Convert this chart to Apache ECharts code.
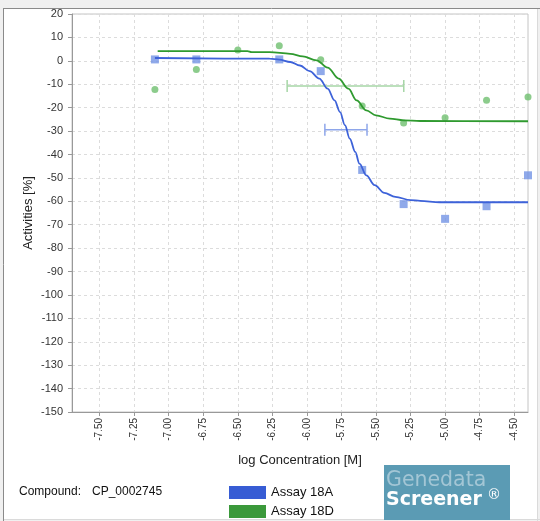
<!DOCTYPE html>
<html>
<head>
<meta charset="utf-8">
<script src="https://cdn.jsdelivr.net/npm/echarts@6/dist/echarts.min.js"></script>
<style>
html,body{margin:0;padding:0;background:#f0f0f0;}
#chart{width:540px;height:521px;}
</style>
</head>
<body>
<div id="chart"></div>
<script>
// ---- data ----
const logConc = [-7.1, -6.8, -6.5, -6.2, -5.9, -5.6, -5.3, -5.0, -4.7, -4.4];
const assay18A = [0.6, 0.6, null, 0.6, -4.4, -46.6, -61.2, -67.5, -62.1, -48.9];
const assay18D = [-12.2, -3.7, 4.6, 6.4, 0.5, -19.3, -26.6, -24.3, -16.8, -15.5];

// fitted curves
const fitA_x = [-7.1, -6.27, -6.2, -6.12, -6.05, -5.98, -5.91, -5.85, -5.8, -5.76, -5.725, -5.69, -5.65, -5.62, -5.57, -5.51, -5.44, -5.36, -5.25, -5.18, -5.04, -4.4];
const fitA_y = [1.2, 0.9, 0.5, -0.5, -2.0, -4.4, -7.6, -11.9, -16.9, -21.9, -27.5, -33.2, -38.9, -43.9, -48.9, -53.1, -56.4, -58.1, -59.5, -59.8, -60.4, -60.4];
const fitD_x = [-7.08, -6.43, -6.4, -6.27, -6.12, -6.03, -5.93, -5.85, -5.77, -5.7, -5.64, -5.57, -5.5, -5.4, -5.3, -5.18, -4.4];
const fitD_y = [4.1, 4.1, 3.7, 3.7, 3.0, 1.9, 0.2, -2.9, -7.6, -11.9, -16.9, -21.2, -23.3, -24.7, -25.4, -25.7, -25.8];

// IC50 error bars: [center, y, low, high]
const errA = [-5.717, -29.4, -5.87, -5.565];
const errD = [-5.72, -10.8, -6.143, -5.299];

const xTicks = [-7.5, -7.25, -7.0, -6.75, -6.5, -6.25, -6.0, -5.75, -5.5, -5.25, -5.0, -4.75, -4.5];
const seriesNames = ['Assay 18A', 'Assay 18D'];
const legendColors = ['#0533c9', '#0a800a'];
const compoundLabel = 'Compound:';
const compoundId = 'CP_0002745';

function zip(xs, ys) { return xs.map((x, i) => [x, ys[i]]); }

const chart = echarts.init(document.getElementById('chart'), null, {renderer: 'canvas'});

function errRender(color) {
  return function (params, api) {
    const y = api.value(1), lo = api.value(2), hi = api.value(3);
    const p1 = api.coord([lo, y]), p2 = api.coord([hi, y]);
    const cap = 6;
    const st = {stroke: color, lineWidth: 1.5};
    return {type: 'group', children: [
      {type: 'line', shape: {x1: p1[0], y1: p1[1], x2: p2[0], y2: p2[1]}, style: st},
      {type: 'line', shape: {x1: p1[0], y1: p1[1] - cap, x2: p1[0], y2: p1[1] + cap}, style: st},
      {type: 'line', shape: {x1: p2[0], y1: p2[1] - cap, x2: p2[0], y2: p2[1] + cap}, style: st}
    ]};
  };
}

const font = '"Liberation Sans", Arial, sans-serif';

chart.setOption({
  backgroundColor: 'transparent',
  animation: false,
  textStyle: {fontFamily: font},
  graphic: [
    {type: 'rect', z: -10, shape: {x: 4, y: 8, width: 533, height: 512}, style: {fill: '#ffffff', stroke: null}},
    {type: 'line', z: -9, shape: {x1: 3.5, y1: 8, x2: 3.5, y2: 521}, style: {stroke: '#8a8a8a', lineWidth: 1}},
    {type: 'line', z: -9, shape: {x1: 3, y1: 8.5, x2: 540, y2: 8.5}, style: {stroke: '#8a8a8a', lineWidth: 1}},
    {type: 'line', z: -9, shape: {x1: 537.5, y1: 9, x2: 537.5, y2: 521}, style: {stroke: '#dadada', lineWidth: 1}},
    {type: 'line', z: -9, shape: {x1: 4, y1: 519.5, x2: 540, y2: 519.5}, style: {stroke: '#dadada', lineWidth: 1}},
    {type: 'text', x: 19, y: 486, style: {text: compoundLabel, font: '12px ' + font, fill: '#111'}},
    {type: 'text', x: 92, y: 486, style: {text: compoundId, font: '12px ' + font, fill: '#111'}},
    {type: 'rect', shape: {x: 384, y: 465, width: 126, height: 55}, style: {fill: '#5b9bb4'}},
    {type: 'text', x: 386, y: 470, style: {text: 'Genedata', font: '20.5px "DejaVu Sans", sans-serif', fill: '#a3c6d5'}},
    {type: 'text', x: 386, y: 491, style: {text: 'Screener', font: 'bold 19px "DejaVu Sans", sans-serif', fill: '#ffffff'}},
    {type: 'text', x: 487, y: 488, style: {text: '®', font: '14px "DejaVu Sans", sans-serif', fill: '#ffffff'}}
  ],
  legend: {
    orient: 'vertical',
    left: 229,
    top: 486,
    padding: 0,
    itemWidth: 37,
    itemHeight: 13,
    itemGap: 6,
    icon: 'rect',
    textStyle: {fontSize: 13, lineHeight: 13, color: '#111', fontFamily: font},
    data: [
      {name: seriesNames[0], itemStyle: {color: legendColors[0], borderWidth: 0}},
      {name: seriesNames[1], itemStyle: {color: legendColors[1], borderWidth: 0}}
    ]
  },
  grid: {left: 72, top: 14, right: 12, bottom: 109, show: true, borderColor: '#c4c4c4', borderWidth: 1, containLabel: false},
  xAxis: {
    type: 'value',
    min: -7.7,
    max: -4.4,
    name: 'log Concentration [M]',
    nameLocation: 'middle',
    nameGap: 42,
    nameTextStyle: {fontSize: 13, color: '#222', fontFamily: font},
    axisLine: {show: true, onZero: false, lineStyle: {color: '#999'}},
    axisTick: {show: true, length: 4, lineStyle: {color: '#999'}, customValues: xTicks},
    axisLabel: {customValues: xTicks, rotate: 90, fontSize: 10, color: '#333', margin: 6,
      formatter: v => v.toFixed(2)},
    splitLine: {show: true, lineStyle: {color: '#dcdcdc', type: [3, 3]}}
  },
  yAxis: {
    type: 'value',
    min: -150,
    max: 20,
    interval: 10,
    name: 'Activities [%]',
    nameLocation: 'middle',
    nameGap: 37,
    nameMoveOverlap: false,
    nameTextStyle: {fontSize: 13, color: '#222', fontFamily: font},
    axisLine: {show: true, onZero: false, lineStyle: {color: '#999'}},
    axisTick: {show: true, length: 4, lineStyle: {color: '#999'}},
    axisLabel: {fontSize: 11, color: '#333', margin: 9},
    splitLine: {show: true, lineStyle: {color: '#dcdcdc', type: [3, 3]}}
  },
  series: [
    {type: 'custom', name: 'errD', renderItem: errRender('#a6d6a6'), data: [errD], encode: {x: [0, 2, 3], y: 1}, z: 1, silent: true},
    {type: 'custom', name: 'errA', renderItem: errRender('#8ea6ea'), data: [errA], encode: {x: [0, 2, 3], y: 1}, z: 1, silent: true},
    {type: 'scatter', name: seriesNames[1] + ' data', data: zip(logConc, assay18D).filter(p => p[1] !== null), symbol: 'circle', symbolSize: 7,
      itemStyle: {color: '#6fbf6f'}, z: 2},
    {type: 'scatter', name: seriesNames[0] + ' data', data: zip(logConc, assay18A).filter(p => p[1] !== null), symbol: 'rect', symbolSize: 8,
      itemStyle: {color: '#7393e5'}, z: 2},
    {type: 'line', name: seriesNames[1] + ' fit', data: zip(fitD_x, fitD_y), showSymbol: false, smooth: 0.35, smoothMonotone: 'x',
      lineStyle: {color: '#2f9a2f', width: 1.8}, itemStyle: {color: '#2f9a2f'}, z: 3},
    {type: 'line', name: seriesNames[0] + ' fit', data: zip(fitA_x, fitA_y), showSymbol: false, smooth: 0.35, smoothMonotone: 'x',
      lineStyle: {color: '#3d62d9', width: 1.8}, itemStyle: {color: '#3d62d9'}, z: 3},
    {type: 'scatter', name: seriesNames[0], data: [], itemStyle: {color: legendColors[0]}},
    {type: 'scatter', name: seriesNames[1], data: [], itemStyle: {color: legendColors[1]}}
  ]
});
</script>
</body>
</html>
